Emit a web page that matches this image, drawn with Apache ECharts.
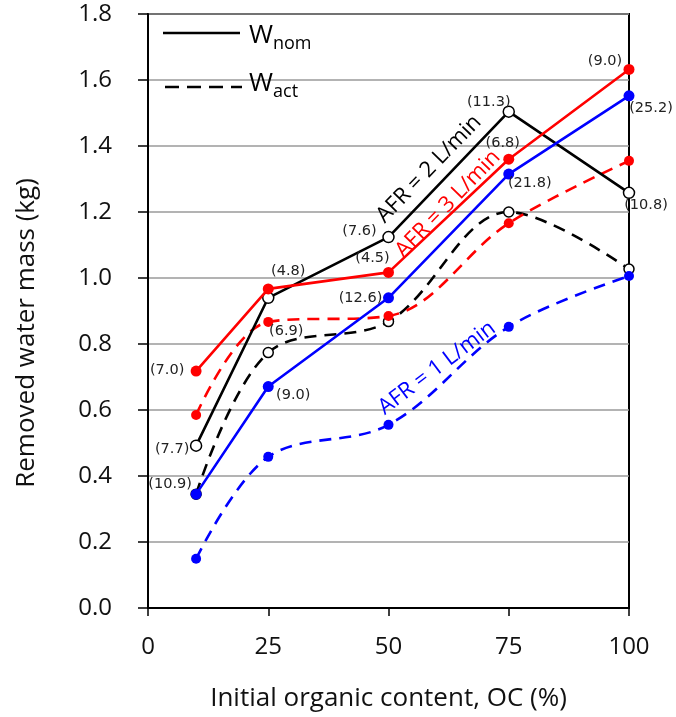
<!DOCTYPE html>
<html>
<head>
<meta charset="utf-8">
<script src="https://cdn.jsdelivr.net/npm/echarts@6/dist/echarts.min.js"></script>
<style>
  html, body { margin: 0; padding: 0; background: #fff; }
  #chart { width: 676px; height: 717px; }
</style>
</head>
<body>
<div id="chart"></div>
<script>
// Initial organic content (%) at which each run was made
const ocValues = [10, 25, 50, 75, 100];
const xTicks = [0, 25, 50, 75, 100];
const yTicks = [0, 0.2, 0.4, 0.6, 0.8, 1.0, 1.2, 1.4, 1.6, 1.8];

// Removed water mass (kg): nominal (solid) and actual (dashed) per air flow rate
const nomAFR1 = [0.345, 0.671, 0.940, 1.315, 1.552];
const actAFR1 = [0.149, 0.458, 0.555, 0.852, 1.006];
const nomAFR2 = [0.492, 0.940, 1.124, 1.504, 1.258];
const actAFR2 = [0.345, 0.774, 0.868, 1.200, 1.027];
const nomAFR3 = [0.718, 0.967, 1.017, 1.360, 1.632];
const actAFR3 = [0.585, 0.867, 0.885, 1.166, 1.355];

// Bracketed figures printed beside the nominal points
const notesAFR1 = ['(10.9)', '(9.0)', '(12.6)', '(21.8)', '(25.2)'];
const notesAFR2 = ['(7.7)', '(6.9)', '(7.6)', '(11.3)', '(10.8)'];
const notesAFR3 = ['(7.0)', '(4.8)', '(4.5)', '(6.8)', '(9.0)'];

// Label offsets from each point centre, in pixels
const offsAFR1 = [[-26, -10], [25, 9], [-28, 0], [21, 9], [22, 12]];
const offsAFR2 = [[-24, 4], [18, 33], [-29, -6], [-20, -9], [17, 12]];
const offsAFR3 = [[-29, -1], [20, -18], [-16, -14], [-6, -16], [-24, -8]];

const BLUE = '#0000ff', RED = '#ff0000', BLACK = '#000000';
const labelFont = { fontFamily: 'DejaVu Sans', fontSize: 14.5, color: '#222' };
const FONT = 'Open Sans';

function points(vals, notes, offs) {
  return vals.map((v, i) => {
    const item = { value: [ocValues[i], v] };
    if (notes) {
      item.label = Object.assign({
        show: true, position: 'inside', offset: offs[i],
        formatter: notes[i], align: 'center', verticalAlign: 'middle'
      }, labelFont);
    }
    return item;
  });
}

function series(name, vals, color, dashed, hollow, z, notes, offs) {
  return {
    name: name,
    type: 'line',
    data: points(vals, notes, offs),
    smooth: dashed ? 0.35 : false,
    symbol: 'circle',
    symbolSize: dashed ? 10 : 11,
    z: z,
    lineStyle: { color: color, width: 2.6, type: dashed ? [12, 8] : 'solid' },
    itemStyle: hollow
      ? { color: '#fff', borderColor: color, borderWidth: 1.5 }
      : { color: color, borderColor: color, borderWidth: 0 },
    emphasis: { disabled: true },
    animation: false
  };
}

const chart = echarts.init(document.getElementById('chart'), null, { renderer: 'canvas' });

const axisText = { fontFamily: FONT, fontSize: 24, color: '#111' };

chart.setOption({
  backgroundColor: '#fff',
  animation: false,
  grid: {
    left: 148, right: 47, top: 14, bottom: 109,
    show: true, borderColor: '#000', borderWidth: 2, backgroundColor: 'transparent'
  },
  xAxis: {
    type: 'value', min: xTicks[0], max: xTicks[xTicks.length - 1], interval: 25,
    name: 'Initial organic content, OC (%)',
    nameLocation: 'middle', nameGap: 78,
    nameTextStyle: { fontFamily: FONT, fontSize: 26, color: '#111' },
    axisLine: { show: true, lineStyle: { color: '#000', width: 2 } },
    axisTick: { show: true, inside: false, length: 8, lineStyle: { color: '#000', width: 1.5 } },
    axisLabel: Object.assign({ margin: 27 }, axisText),
    splitLine: { show: false }
  },
  yAxis: {
    type: 'value', min: yTicks[0], max: yTicks[yTicks.length - 1], interval: 0.2,
    name: 'Removed water mass (kg)',
    nameLocation: 'middle', nameGap: 108,
    // extra right padding nudges the rotated title a little lower
    nameTextStyle: { fontFamily: FONT, fontSize: 26, color: '#111', padding: [0, 44, 0, 0] },
    axisLine: { show: true, lineStyle: { color: '#000', width: 2 } },
    axisTick: { show: true, inside: false, length: 10, lineStyle: { color: '#000', width: 1.5 } },
    axisLabel: Object.assign({ margin: 36, formatter: v => v.toFixed(1) }, axisText),
    splitLine: { show: true, lineStyle: { color: '#9a9a9a', width: 1.5 } }
  },
  series: [
    series('AFR2 actual', actAFR2, BLACK, true, true, 2),
    series('AFR3 actual', actAFR3, RED, true, false, 3),
    series('AFR1 actual', actAFR1, BLUE, true, false, 4),
    series('AFR2 nominal', nomAFR2, BLACK, false, true, 5, notesAFR2, offsAFR2),
    series('AFR3 nominal', nomAFR3, RED, false, false, 6, notesAFR3, offsAFR3),
    series('AFR1 nominal', nomAFR1, BLUE, false, false, 7, notesAFR1, offsAFR1)
  ],
  graphic: [
    // key: solid = nominal, dashed = actual
    { type: 'line', shape: { x1: 163, y1: 33, x2: 240, y2: 33 },
      style: { stroke: '#000', lineWidth: 2.6 }, z: 20 },
    { type: 'text', x: 249, y: 36, z: 20,
      style: { text: '{w|W}{s|nom}', verticalAlign: 'middle',
        rich: { w: { fontFamily: FONT, fontSize: 26, fill: '#000' },
                s: { fontFamily: FONT, fontSize: 18, fill: '#000', padding: [16, 0, 0, 0] } } } },
    { type: 'line', shape: { x1: 165, y1: 87, x2: 242, y2: 87 },
      style: { stroke: '#000', lineWidth: 2.6, lineDash: [14, 8] }, z: 20 },
    { type: 'text', x: 249, y: 84, z: 20,
      style: { text: '{w|W}{s|act}', verticalAlign: 'middle',
        rich: { w: { fontFamily: FONT, fontSize: 26, fill: '#000' },
                s: { fontFamily: FONT, fontSize: 18, fill: '#000', padding: [16, 0, 0, 0] } } } },
    // flow-rate annotations along the curves
    { type: 'text', x: 429, y: 169, rotation: 46 * Math.PI / 180, z: 20,
      style: { text: 'AFR = 2 L/min', fill: BLACK, fontFamily: FONT, fontSize: 22,
               align: 'center', verticalAlign: 'middle' } },
    { type: 'text', x: 448, y: 204, rotation: 46 * Math.PI / 180, z: 20,
      style: { text: 'AFR = 3 L/min', fill: RED, fontFamily: FONT, fontSize: 22,
               align: 'center', verticalAlign: 'middle' } },
    { type: 'text', x: 437, y: 368, rotation: 37 * Math.PI / 180, z: 20,
      style: { text: 'AFR = 1 L/min', fill: BLUE, fontFamily: FONT, fontSize: 22,
               align: 'center', verticalAlign: 'middle' } }
  ]
});
</script>
</body>
</html>
